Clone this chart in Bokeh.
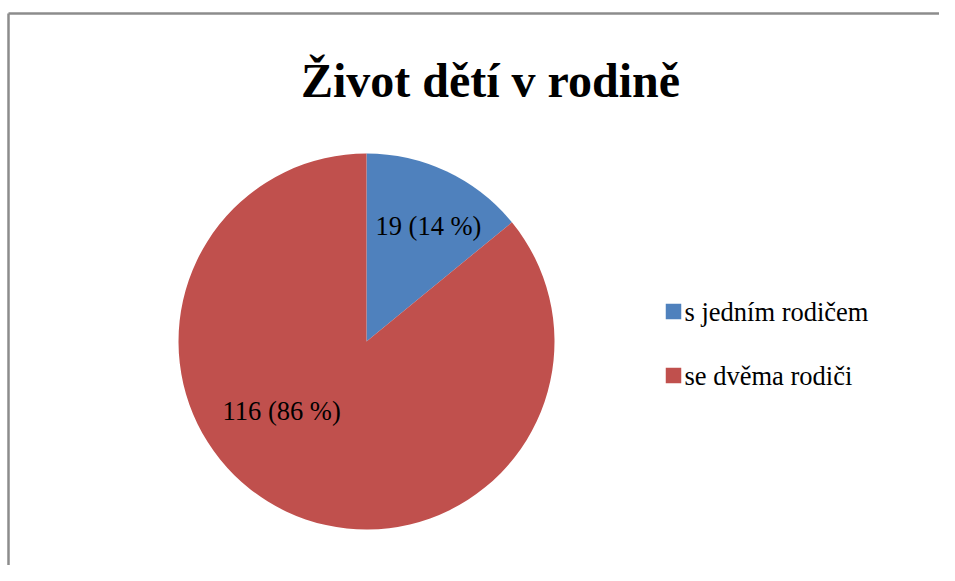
import math
from bokeh.plotting import figure
from bokeh.models import Range1d, ColumnDataSource
from bokeh.embed import file_html
from bokeh.resources import INLINE
from bokeh.core.properties import value

# ---- data ----
title_text = "Život dětí v rodině"
categories = ["s jedním rodičem", "se dvěma rodiči"]
counts = [19, 116]
colors = ["#4F81BD", "#C0504D"]

# ---- layout (pixels) ----
W, H = 939, 565
def X(px):  # picture x -> data x
    return px
def Y(py):  # picture y -> data y
    return H - py

cx, cy, R = X(366), Y(341), 188

p = figure(width=W, height=H, output_backend="svg", toolbar_location=None,
           x_range=Range1d(0, W), y_range=Range1d(0, H), min_border=0,
           outline_line_color=None, background_fill_color="white",
           border_fill_color="white")
p.axis.visible = False
p.grid.visible = False

# outer chart border (cropped at right/bottom)
p.line(x=[X(8), X(8)], y=[0, Y(13)], line_color="#8c8c8c", line_width=2.5)
p.line(x=[X(8), W], y=[Y(13), Y(13)], line_color="#8c8c8c", line_width=2.5)

# pie
total = sum(counts)
starts, ends = [], []
a = math.pi / 2
for c in counts:
    starts.append(a)
    a -= 2 * math.pi * c / total
    ends.append(a)
src = ColumnDataSource(dict(start=starts, end=ends, color=colors,
                            x=[cx] * len(counts), y=[cy] * len(counts)))
p.wedge(x="x", y="y", radius=R, start_angle="end", end_angle="start",
        fill_color="color", line_color=None, source=src)

# data labels
labels = [f"{c} ({round(100 * c / total)} %)" for c in counts]
lab_pos = [(math.radians(61.7), 0.695), (math.radians(219.5), 0.585)]
lx = [cx + R * f * math.cos(ang) for ang, f in lab_pos]
ly = [cy + R * f * math.sin(ang) for ang, f in lab_pos]
p.text(x=lx, y=ly, text=labels, text_font=value("Liberation Serif"),
       text_font_size="26.5px", text_align="center", text_baseline="middle",
       text_color="black")

# title
p.text(x=[X(490)], y=[Y(80)], text=[title_text], text_font=value("Liberation Serif"),
       text_font_style="bold", text_font_size="48px", text_align="center",
       text_baseline="middle", text_color="black")

# legend
leg_y = [Y(311), Y(375)]
p.scatter(x=[X(673)] * 2, y=leg_y, marker="square", size=15.5,
          fill_color=colors, line_color=None)
p.text(x=[X(684)] * 2, y=leg_y, text=categories, text_font=value("Liberation Serif"),
       text_font_size="26.5px", text_align="left", text_baseline="middle",
       text_color="black")

open("out.html", "w").write(file_html(p, INLINE))
